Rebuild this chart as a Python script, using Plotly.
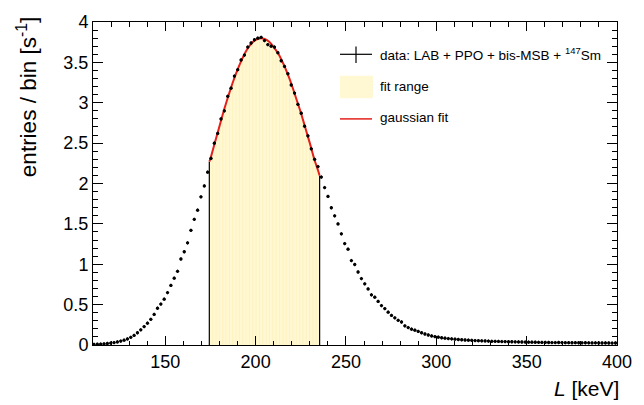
import numpy as np
import plotly.graph_objects as go

# ---------------- data ----------------
bin_start = 110.55      # centre of the first bin [keV]
bin_width = 1.85        # [keV]

counts = [
    # 110 - 175 keV (rising tail)
    0.007, 0.009, 0.012, 0.015, 0.019, 0.024, 0.030, 0.038, 0.048, 0.060,
    0.075, 0.095, 0.119, 0.152, 0.188, 0.228, 0.270, 0.318, 0.379, 0.455,
    0.507, 0.568, 0.649, 0.738, 0.828, 0.913, 1.065, 1.155, 1.265, 1.420,
    1.556, 1.670, 1.835, 1.970, 2.140,
    # fit range (k = 35 ... 67)
    2.310, 2.500, 2.620, 2.800, 2.900, 3.080, 3.180, 3.330, 3.410, 3.530,
    3.590, 3.690, 3.740, 3.780, 3.800, 3.810, 3.770, 3.720, 3.700, 3.690,
    3.620, 3.520, 3.450, 3.360, 3.220, 3.120, 2.980, 2.870, 2.710, 2.590,
    2.430, 2.300, 2.210,
    # falling tail
    2.080, 1.950, 1.840, 1.700, 1.600, 1.500, 1.377, 1.256, 1.187, 1.046,
    0.997, 0.904, 0.823, 0.758, 0.694, 0.621, 0.592, 0.540, 0.488, 0.451,
    0.407, 0.366, 0.337, 0.306, 0.285, 0.237, 0.216, 0.196, 0.184, 0.168,
    0.152, 0.136, 0.124, 0.112, 0.104, 0.097, 0.090, 0.085, 0.080, 0.076,
    0.072, 0.068, 0.065, 0.062, 0.060, 0.058, 0.055, 0.053, 0.052, 0.050,
    0.048, 0.046, 0.045, 0.044, 0.043, 0.042, 0.040, 0.040, 0.039, 0.038,
    0.037, 0.036, 0.035, 0.035, 0.034, 0.033, 0.032, 0.032, 0.031, 0.030,
    0.030, 0.031, 0.030, 0.029, 0.029, 0.028, 0.029, 0.028, 0.027, 0.028,
    0.027, 0.026, 0.027, 0.026, 0.025, 0.026, 0.025, 0.024, 0.025,
]
fit_first_bin = 35
fit_last_bin = 67

# gaussian fit curve
fit_x = [174.4, 175.0, 177.5, 180.0, 182.5, 185.0, 187.5, 190.0, 192.5, 195.0,
         197.5, 200.0, 203.0, 205.0, 207.5, 210.0, 212.5, 215.0, 217.5, 220.0,
         222.5, 225.0, 227.5, 230.0, 232.5, 235.0, 235.4]
fit_y = [2.27, 2.31, 2.51, 2.71, 2.91, 3.09, 3.26, 3.41, 3.54, 3.65,
         3.73, 3.78, 3.80, 3.79, 3.756, 3.69, 3.61, 3.50, 3.37, 3.22,
         3.05, 2.88, 2.69, 2.50, 2.30, 2.13, 2.10]

x_ticks = [150, 200, 250, 300, 350, 400]
y_ticks = [0, 0.5, 1, 1.5, 2, 2.5, 3, 3.5, 4]
y_tick_text = ["0", "0.5", "1", "1.5", "2", "2.5", "3", "3.5", "4"]

legend_data = "data: LAB + PPO + bis-MSB + <sup>147</sup>Sm"
legend_fill = "fit range"
legend_fit = "gaussian fit"

# ---------------- derived ----------------
counts = np.array(counts)
centres = bin_start + bin_width * np.arange(len(counts))
lo_edge = centres[fit_first_bin] - bin_width / 2
hi_edge = centres[fit_last_bin] + bin_width / 2

FONT = "Liberation Sans, Arial, Helvetica, sans-serif"
FILL = "#FFF8D2"
STRIPE = "#FAEDAE"
RED = "#E3201B"

fig = go.Figure()

# fill under the fit in the fit range
fig.add_trace(go.Scatter(x=fit_x, y=fit_y, mode="lines", line=dict(width=0, shape="spline"),
                         fill="tozeroy", fillcolor=FILL, hoverinfo="skip", showlegend=False))

# bin-edge stripes inside the fill
edges = np.arange(lo_edge + bin_width, hi_edge - bin_width / 2, bin_width)
sx, sy = [], []
for e in edges:
    sx += [e, e, None]
    sy += [0, float(np.interp(e, fit_x, fit_y)) - 0.01, None]
fig.add_trace(go.Scatter(x=sx, y=sy, mode="lines", line=dict(color=STRIPE, width=0.5),
                         hoverinfo="skip", showlegend=False))

# black outer edges of the fit range histogram
fig.add_trace(go.Scatter(
    x=[lo_edge, lo_edge, None, hi_edge, hi_edge],
    y=[0, float(np.interp(lo_edge, fit_x, fit_y)), None, 0, float(np.interp(hi_edge, fit_x, fit_y))],
    mode="lines", line=dict(color="black", width=1.2), hoverinfo="skip", showlegend=False))

# gaussian fit
fig.add_trace(go.Scatter(x=fit_x, y=fit_y, mode="lines", line=dict(color=RED, width=2, shape="spline"),
                         showlegend=False))

# data points
fig.add_trace(go.Scatter(
    x=centres, y=counts, mode="markers",
    marker=dict(color="black", size=3.3, symbol="circle"),
    error_x=dict(type="constant", value=bin_width * 0.4, color="black", thickness=1, width=0),
    error_y=dict(type="constant", value=0.02, color="black", thickness=1, width=0),
    showlegend=False))

# ---------------- manual legend ----------------
W, H = 524.0, 330.0
L0, T0 = 93.0, 15.0
def px(x):
    return (x - L0) / W
def py(y):
    return (T0 + H - y) / H

shapes = [
    dict(type="line", xref="paper", yref="paper", x0=px(340), x1=px(372), y0=py(48), y1=py(48),
         line=dict(color="black", width=1.2)),
    dict(type="line", xref="paper", yref="paper", x0=px(356), x1=px(356), y0=py(40), y1=py(57),
         line=dict(color="black", width=1.2)),
    dict(type="rect", xref="paper", yref="paper", x0=px(340), x1=px(373), y0=py(70), y1=py(93),
         fillcolor=FILL, line=dict(width=0)),
    dict(type="line", xref="paper", yref="paper", x0=px(340), x1=px(372), y0=py(114), y1=py(114),
         line=dict(color=RED, width=1.5)),
]
annotations = [
    dict(text=legend_data, xref="paper", yref="paper", x=px(378), y=py(48), xanchor="left",
         yanchor="middle", showarrow=False, font=dict(family=FONT, size=13.5, color="black")),
    dict(text=legend_fill, xref="paper", yref="paper", x=px(378), y=py(81), xanchor="left",
         yanchor="middle", showarrow=False, font=dict(family=FONT, size=13.5, color="black")),
    dict(text=legend_fit, xref="paper", yref="paper", x=px(378), y=py(113), xanchor="left",
         yanchor="middle", showarrow=False, font=dict(family=FONT, size=13.5, color="black")),
    # axis titles
    dict(text="entries / bin [s<sup>-1</sup>]", xref="paper", yref="paper", x=px(27), y=py(8),
         xanchor="center", yanchor="top", textangle=-90, showarrow=False,
         font=dict(family=FONT, size=22.5, color="black")),
    dict(text="<i>L</i> [keV]", xref="paper", yref="paper", x=px(621), y=py(389),
         xanchor="right", yanchor="middle", showarrow=False,
         font=dict(family=FONT, size=21, color="black")),
]

axis_common = dict(showline=True, linecolor="black", linewidth=1, mirror="ticks",
                   showgrid=False, zeroline=False, ticks="inside", tickcolor="black",
                   tickwidth=1, tickfont=dict(family=FONT, size=18, color="black"))

fig.update_layout(
    width=644, height=405,
    margin=dict(l=93, r=27, t=15, b=60),
    paper_bgcolor="white", plot_bgcolor="white",
    showlegend=False,
    shapes=shapes, annotations=annotations,
    xaxis=dict(range=[110, 400], tickvals=x_ticks, ticklen=9,
               minor=dict(ticks="inside", dtick=10, tick0=0, ticklen=4.5, tickcolor="black"),
               **axis_common),
    yaxis=dict(range=[0, 4], tickvals=y_ticks, ticktext=y_tick_text, ticklen=10,
               minor=dict(ticks="inside", dtick=0.1, tick0=0, ticklen=5, tickcolor="black"),
               **axis_common),
)

fig.write_html("out.html")
